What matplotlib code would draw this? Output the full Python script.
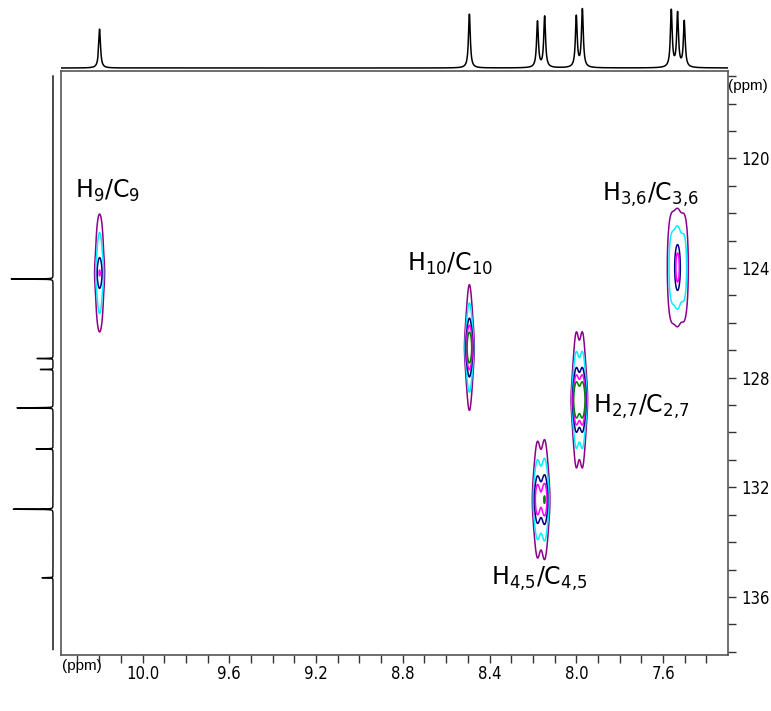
import numpy as np
import matplotlib.pyplot as plt
from matplotlib import font_manager
from matplotlib.ticker import MultipleLocator, FormatStrFormatter

# 1H projection (top trace): shift (ppm), height
h_shift = [10.198, 8.493, 8.179, 8.146, 8.000, 7.972, 7.562, 7.533, 7.502]
h_height = [39, 54, 46, 51, 51, 58, 57, 54, 46]

# 13C projection (left trace): shift (ppm), height
c_shift = [124.4, 127.3, 127.7, 129.1, 130.6, 132.8, 135.3]
c_height = [42, 16, 13, 36, 17, 43, 11]

# HSQC cross-peak terms: 1H lines, 13C centre / width / shape, amplitude
term_h = [[10.198], [10.198], [8.493], [8.179, 8.146], [8.000, 7.972],
          [7.562, 7.533, 7.502], [7.533]]
term_hw = [[1], [1], [1], [1, 1.05], [1, 1], [0.85, 1, 0.85], [1]]
term_hs = [0.0127, 0.0127, 0.010, 0.012, 0.0104, 0.0138, 0.0067]
term_c = [124.18, 124.18, 126.9, 132.45, 128.81, 123.98, 123.98]
term_cw = [1.41, 0.365, 0.657, 0.84, 0.657, 1.40, 0.474]
term_cshape = ['g', 'g', 'l', 'l', 'l', 'g', 'g']
term_amp = [3.2, 2.1, 13.2, 7.8, 15.3, 3.3, 4.0]

# peak labels (ppm H, ppm C)
peak_names = ['H$_9$/C$_9$', 'H$_{10}$/C$_{10}$', 'H$_{4{,}5}$/C$_{4{,}5}$',
              'H$_{2{,}7}$/C$_{2{,}7}$', 'H$_{3{,}6}$/C$_{3{,}6}$']
label_x = [10.159, 8.583, 8.17, 7.923, 7.659]
label_y = [121.44, 124.1, 135.56, 129.29, 121.55]
label_ha = ['center', 'center', 'center', 'left', 'center']

levels = [1, 1.85, 3.6, 5.2, 7.6]
level_colors = ['#8B008B', '#00F0FF', '#000080', '#FF00FF', '#008000']

xlim = (10.376, 7.302)
ylim = (138.12, 116.79)

plt.rcParams['mathtext.default'] = 'regular'

# narrow sans for the axis numbers if one is around
tick_font = font_manager.FontProperties(family='Liberation Sans', size=12.5)
installed = {f.name for f in font_manager.fontManager.ttflist}
if 'Liberation Sans Narrow' in installed:
    tick_font = font_manager.FontProperties(family='Liberation Sans Narrow', size=13.5)
else:
    cond = font_manager.FontProperties(family='DejaVu Sans', stretch='condensed', size=12)
    if 'Condensed' in font_manager.findfont(cond, fallback_to_default=False):
        tick_font = cond

W, H = 771, 711
fig = plt.figure(figsize=(W / 100, H / 100), dpi=100)

def frac(x0, y0, x1, y1):
    return [x0 / W, 1 - y1 / H, (x1 - x0) / W, (y1 - y0) / H]

ax = fig.add_axes(frac(61, 70.5, 727.7, 655))
ax_top = fig.add_axes(frac(61, 2, 727.7, 70), sharex=ax)
ax_left = fig.add_axes(frac(4, 70.5, 58, 655), sharey=ax)

# 2D contours
xh = np.linspace(xlim[1], xlim[0], 2200)
yc = np.linspace(ylim[1], ylim[0], 1400)
Z = np.zeros((len(yc), len(xh)))
for i in range(len(term_c)):
    prof_h = np.zeros_like(xh)
    for p, w in zip(term_h[i], term_hw[i]):
        prof_h += w * np.exp(-(xh - p) ** 2 / (2 * term_hs[i] ** 2))
    prof_h /= prof_h.max()
    d = (yc - term_c[i]) / term_cw[i]
    if term_cshape[i] == 'l':
        prof_c = 1 / (1 + d ** 2)
    else:
        prof_c = np.exp(-d ** 2 / 2)
    Z += term_amp[i] * np.outer(prof_c, prof_h)

ax.contour(xh, yc, Z, levels=levels, colors=level_colors, linewidths=1.1)

for name, lx, ly, ha in zip(peak_names, label_x, label_y, label_ha):
    ax.text(lx, ly, name, ha=ha, va='baseline', fontsize=17, family='DejaVu Sans')

ax.set_xlim(xlim)
ax.set_ylim(ylim)
ax.xaxis.set_major_locator(MultipleLocator(0.4))
ax.xaxis.set_minor_locator(MultipleLocator(0.1))
ax.xaxis.set_major_formatter(FormatStrFormatter('%.1f'))
ax.yaxis.set_major_locator(MultipleLocator(4))
ax.yaxis.set_minor_locator(MultipleLocator(1))
ax.yaxis.tick_right()
ax.tick_params(which='both', direction='out', length=6, width=1, color='#333333')
ax.tick_params(axis='x', pad=1)
ax.tick_params(axis='y', pad=4)
for lab in ax.get_xticklabels() + ax.get_yticklabels():
    lab.set_fontproperties(tick_font)
for s in ax.spines.values():
    s.set_color('#555555')
    s.set_linewidth(1.2)

ppm_font = font_manager.FontProperties(family='Liberation Sans', size=11)
fig.text(728 / W, 1 - 86 / H, '(ppm)', fontproperties=ppm_font, va='center', ha='left')
fig.text(62 / W, 1 - 666 / H, '(ppm)', fontproperties=ppm_font, va='center', ha='left')

# 1H trace
xt = np.linspace(xlim[1], xlim[0], 4000)
trace_h = np.zeros_like(xt)
for p, hgt in zip(h_shift, h_height):
    trace_h += hgt / (1 + ((xt - p) / 0.005) ** 2)
ax_top.plot(xt, trace_h, color='black', lw=1.1)
ax_top.set_ylim(-2, 66)
ax_top.axis('off')

# 13C trace
yt = np.linspace(ylim[1] + 0.2, ylim[0] - 0.2, 6000)
trace_c = np.zeros_like(yt)
for p, hgt in zip(c_shift, c_height):
    trace_c += hgt / (1 + ((yt - p) / 0.006) ** 2)
ax_left.plot(trace_c, yt, color='black', lw=1)
ax_left.set_xlim(49, -5)
ax_left.axis('off')

fig.savefig('out.png', dpi=100)
